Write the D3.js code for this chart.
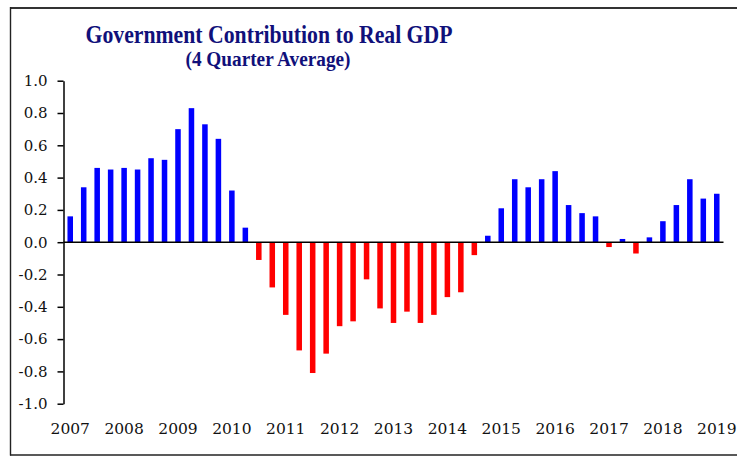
<!DOCTYPE html>
<html>
<head>
<meta charset="utf-8">
<script src="https://cdn.jsdelivr.net/npm/d3@7"></script>
<style>
  html, body { margin: 0; padding: 0; background: #fff; }
  svg { display: block; }
</style>
</head>
<body>
<svg id="chart" width="737" height="456"></svg>
<script>
// Quarterly government contribution to real GDP growth, 4-quarter average (pp)
const quarters = [];
for (let y = 2007; y <= 2019; y++) {
  for (let q = 1; q <= 4; q++) {
    if (y === 2019 && q > 1) break;
    quarters.push(y + "Q" + q);
  }
}

const values = [
  0.16, 0.34, 0.46, 0.45, 0.46, 0.45, 0.52, 0.51,   // 2007-2008
  0.70, 0.83, 0.73, 0.64, 0.32, 0.09, -0.11, -0.28, // 2009-2010
  -0.45, -0.67, -0.81, -0.69, -0.52, -0.49, -0.23, -0.41, // 2011-2012
  -0.50, -0.43, -0.50, -0.45, -0.34, -0.31, -0.08, 0.04,  // 2013-2014
  0.21, 0.39, 0.34, 0.39, 0.44, 0.23, 0.18, 0.16,   // 2015-2016
  -0.03, 0.02, -0.07, 0.03, 0.13, 0.23, 0.39, 0.27, // 2017-2018
  0.30                                              // 2019
];

const yTicks = [1.0, 0.8, 0.6, 0.4, 0.2, 0.0, -0.2, -0.4, -0.6, -0.8, -1.0];
const yTickLabels = ["1.0", "0.8", "0.6", "0.4", "0.2", "0.0", "-0.2", "-0.4", "-0.6", "-0.8", "-1.0"];
const yearLabels = ["2007", "2008", "2009", "2010", "2011", "2012", "2013",
                    "2014", "2015", "2016", "2017", "2018", "2019"];

const svg = d3.select("#chart");

// outer frame
svg.append("line").attr("x1", 10).attr("x2", 737).attr("y1", 8).attr("y2", 8)
  .attr("stroke", "#333").attr("stroke-width", 2);
svg.append("line").attr("x1", 10.5).attr("x2", 10.5).attr("y1", 7).attr("y2", 455.5)
  .attr("stroke", "#222").attr("stroke-width", 1.4);
svg.append("line").attr("x1", 10).attr("x2", 737).attr("y1", 455).attr("y2", 455)
  .attr("stroke", "#222").attr("stroke-width", 1.4);

// titles
svg.append("text")
  .attr("x", 269).attr("y", 43)
  .attr("text-anchor", "middle")
  .attr("font-family", "'Liberation Serif', serif")
  .attr("font-weight", "bold")
  .attr("font-size", 25)
  .attr("fill", "#10107a")
  .attr("textLength", 367).attr("lengthAdjust", "spacingAndGlyphs")
  .text("Government Contribution to Real GDP");

svg.append("text")
  .attr("x", 268).attr("y", 66)
  .attr("text-anchor", "middle")
  .attr("font-family", "'Liberation Serif', serif")
  .attr("font-weight", "bold")
  .attr("font-size", 20)
  .attr("fill", "#10107a")
  .attr("textLength", 165).attr("lengthAdjust", "spacingAndGlyphs")
  .text("(4 Quarter Average)");

// scales
const x = d3.scaleBand()
  .domain(quarters)
  .range([63.5, 723.5])
  .paddingInner(0.59)
  .paddingOuter(0.295);

const y = d3.scaleLinear()
  .domain([-1, 1])
  .range([403.7, 80.7]);

// bars
svg.append("g")
  .selectAll("rect")
  .data(values)
  .join("rect")
  .attr("x", (d, i) => x(quarters[i]))
  .attr("width", x.bandwidth())
  .attr("y", d => y(Math.max(0, d)))
  .attr("height", d => Math.abs(y(d) - y(0)))
  .attr("fill", d => d >= 0 ? "#0000ff" : "#ff0000");

// y axis
const yAxis = d3.axisLeft(y)
  .tickValues(yTicks)
  .tickSize(6)
  .tickSizeOuter(0)
  .tickFormat((d, i) => yTickLabels[i]);

const gy = svg.append("g")
  .attr("transform", "translate(63.5,0)")
  .call(yAxis);
gy.select(".domain").attr("stroke", "#000").attr("stroke-width", 1.5);
gy.selectAll(".tick line").attr("stroke", "#000").attr("stroke-width", 1.5);
gy.selectAll(".tick text")
  .attr("x", -16)
  .attr("font-family", "'DejaVu Serif', serif")
  .attr("font-size", 15)
  .attr("fill", "#111");

// zero line
svg.append("line")
  .attr("x1", 63.5).attr("x2", 723.5)
  .attr("y1", y(0)).attr("y2", y(0))
  .attr("stroke", "#000").attr("stroke-width", 1.5);

// year labels under the first quarter of each year
const xAxis = d3.axisBottom(x)
  .tickValues(yearLabels.map(yr => yr + "Q1"))
  .tickSize(0)
  .tickFormat(d => d.slice(0, 4));

const gx = svg.append("g")
  .attr("transform", "translate(0,420)")
  .call(xAxis);
gx.select(".domain").remove();
gx.selectAll(".tick text")
  .attr("y", 0)
  .attr("dy", "0.9em")
  .attr("font-family", "'DejaVu Serif', serif")
  .attr("font-size", 15.5)
  .attr("fill", "#111");
</script>
</body>
</html>
